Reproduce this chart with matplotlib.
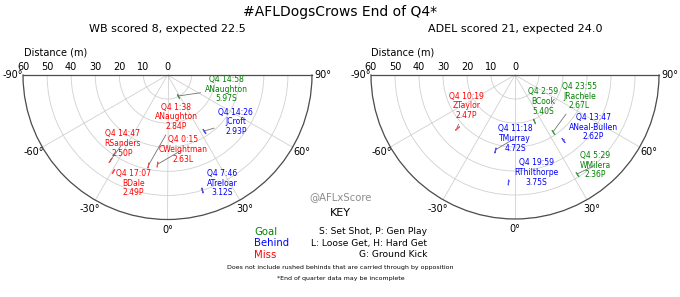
import numpy as np
import matplotlib.pyplot as plt

TITLE = "#AFLDogsCrows End of Q4*"

# Western Bulldogs shots: angle (deg, 0 = straight in front), distance (m)
wb_theta  = [25.5, -11.9, 32.7, -33.8, -6.4, -29.4, 16.5]
wb_dist   = [9.7, 38.3, 27.7, 42.6, 37.3, 45.9, 50.0]
wb_time   = ["14:58", "1:38", "14:26", "14:47", "0:15", "17:07", "7:46"]
wb_player = ["ANaughton", "ANaughton", "JCroft", "RSanders", "CWeightman", "BDale", "ATreloar"]
wb_xscore = [5.97, 2.84, 2.93, 2.50, 2.63, 2.49, 3.12]
wb_kind   = ["S", "P", "P", "P", "L", "P", "S"]
wb_result = ["Goal", "Miss", "Behind", "Miss", "Miss", "Miss", "Behind"]

# Adelaide shots
adel_theta  = [-47.6, 22.4, 33.7, 36.4, -14.9, 32.0, -3.7]
adel_dist   = [32.8, 20.7, 28.5, 33.7, 32.3, 48.7, 44.6]
adel_time   = ["10:19", "2:59", "23:55", "13:47", "11:18", "5:29", "19:59"]
adel_player = ["ZTaylor", "BCook", "JRachele", "ANeal-Bullen", "TMurray", "WMilera", "RThilthorpe"]
adel_xscore = [2.47, 5.40, 2.67, 2.62, 4.72, 2.36, 3.75]
adel_kind   = ["P", "S", "L", "P", "S", "P", "S"]
adel_result = ["Miss", "Goal", "Goal", "Behind", "Behind", "Goal", "Behind"]

QUARTER = "Q4"
COLOURS = {"Goal": "green", "Behind": "blue", "Miss": "red"}

# where the labels ended up (theta deg, r m) - placed by eye
wb_lab_theta = [76.6, 11.8, 55.5, -33.2, 11.6, -17.4, 26.9]
wb_lab_r     = [25.1, 17.7, 34.4, 34.0, 31.6, 47.0, 50.3]
adel_lab_theta = [-57.3, 46.7, 71.9, 56.3, 0.0, 41.6, 12.2]
adel_lab_r     = [23.9, 16.2, 28.2, 39.2, 26.4, 50.2, 41.5]

W, H = 680, 297


def score(result):
    return sum(6 if r == "Goal" else 1 if r == "Behind" else 0 for r in result)


def half_polar(fig, x0, x1, ytop):
    # half wedge gets centred in a square box, so build the square around it
    side = x1 - x0
    yc = ytop + side / 4
    return fig.add_axes([x0 / W, 1 - (yc + side / 2) / H, side / W, side / H],
                        projection="polar")


def draw_team(ax, theta, dist, time, player, xs, kind, result, lab_t, lab_r):
    ax.set_theta_zero_location("S")
    ax.set_theta_direction(1)
    ax.set_thetamin(-90)
    ax.set_thetamax(90)
    ax.set_rlim(0, 60)
    ax.set_rticks(range(0, 70, 10))
    ax.tick_params(axis="y", labelsize=7, pad=-1.5)
    ax.set_thetagrids([-90, -60, -30, 0, 30, 60, 90],
                      labels=["-90°", "-60°", "-30°", "0°", "30°", "60°", "90°"],
                      fontsize=7)
    ax.tick_params(axis="x", pad=-3)
    ax.grid(color="#d0d0d0", lw=0.6)
    for sp in ax.spines.values():
        sp.set_color("0.3")
        sp.set_linewidth(0.9)

    for i in range(len(theta)):
        c = COLOURS[result[i]]
        t = np.deg2rad(theta[i])
        ax.plot([t], [dist[i]], ls="none", marker=(2, 2, theta[i]),
                ms=4, mew=0.8, color=c, alpha=0.7)
        txt = f"{QUARTER} {time[i]}\n{player[i]}\n{xs[i]:.2f}{kind[i]}"
        ax.annotate(txt, xy=(t, dist[i]), xytext=(np.deg2rad(lab_t[i]), lab_r[i]),
                    ha="center", va="center", fontsize=5.5, color=c, linespacing=1.1,
                    arrowprops=dict(arrowstyle="-", color="0.45", lw=0.6,
                                    shrinkA=1, shrinkB=0))


fig = plt.figure(figsize=(6.8, 2.97), dpi=100)
ax1 = half_polar(fig, 23, 312, 75)
ax2 = half_polar(fig, 371, 659, 75)

draw_team(ax1, wb_theta, wb_dist, wb_time, wb_player, wb_xscore, wb_kind, wb_result,
          wb_lab_theta, wb_lab_r)
draw_team(ax2, adel_theta, adel_dist, adel_time, adel_player, adel_xscore, adel_kind,
          adel_result, adel_lab_theta, adel_lab_r)

fig.text(0.5, 0.958, TITLE, ha="center", va="center", fontsize=10)
fig.text(167.5 / W, 0.902, f"WB scored {score(wb_result)}, expected {sum(wb_xscore):.1f}",
         ha="center", va="center", fontsize=8)
fig.text(515 / W, 0.902, f"ADEL scored {score(adel_result)}, expected {sum(adel_xscore):.1f}",
         ha="center", va="center", fontsize=8)
fig.text(55.7 / W, 1 - 52.3 / H, "Distance (m)", ha="center", va="center", fontsize=7)
fig.text(403 / W, 1 - 52.3 / H, "Distance (m)", ha="center", va="center", fontsize=7)

# key
fig.text(0.501, 0.337, "@AFLxScore", ha="center", va="center", fontsize=7.3, color="0.55")
fig.text(0.501, 0.283, "KEY", ha="center", va="center", fontsize=8)
key_words = ["Goal", "Behind", "Miss"]
key_notes = ["S: Set Shot, P: Gen Play", "L: Loose Get, H: Hard Get", "G: Ground Kick"]
for i, (w, n) in enumerate(zip(key_words, key_notes)):
    y = 0.219 - i * 0.038
    fig.text(0.3735, y, w, ha="left", va="center", fontsize=7.3, color=COLOURS[w])
    fig.text(0.628, y, n, ha="right", va="center", fontsize=6.6)
fig.text(0.501, 0.101, "Does not include rushed behinds that are carried through by opposition",
         ha="center", va="center", fontsize=4.5)
fig.text(0.501, 0.061, "*End of quarter data may be incomplete",
         ha="center", va="center", fontsize=4.5)

fig.savefig("out.png", dpi=100)
